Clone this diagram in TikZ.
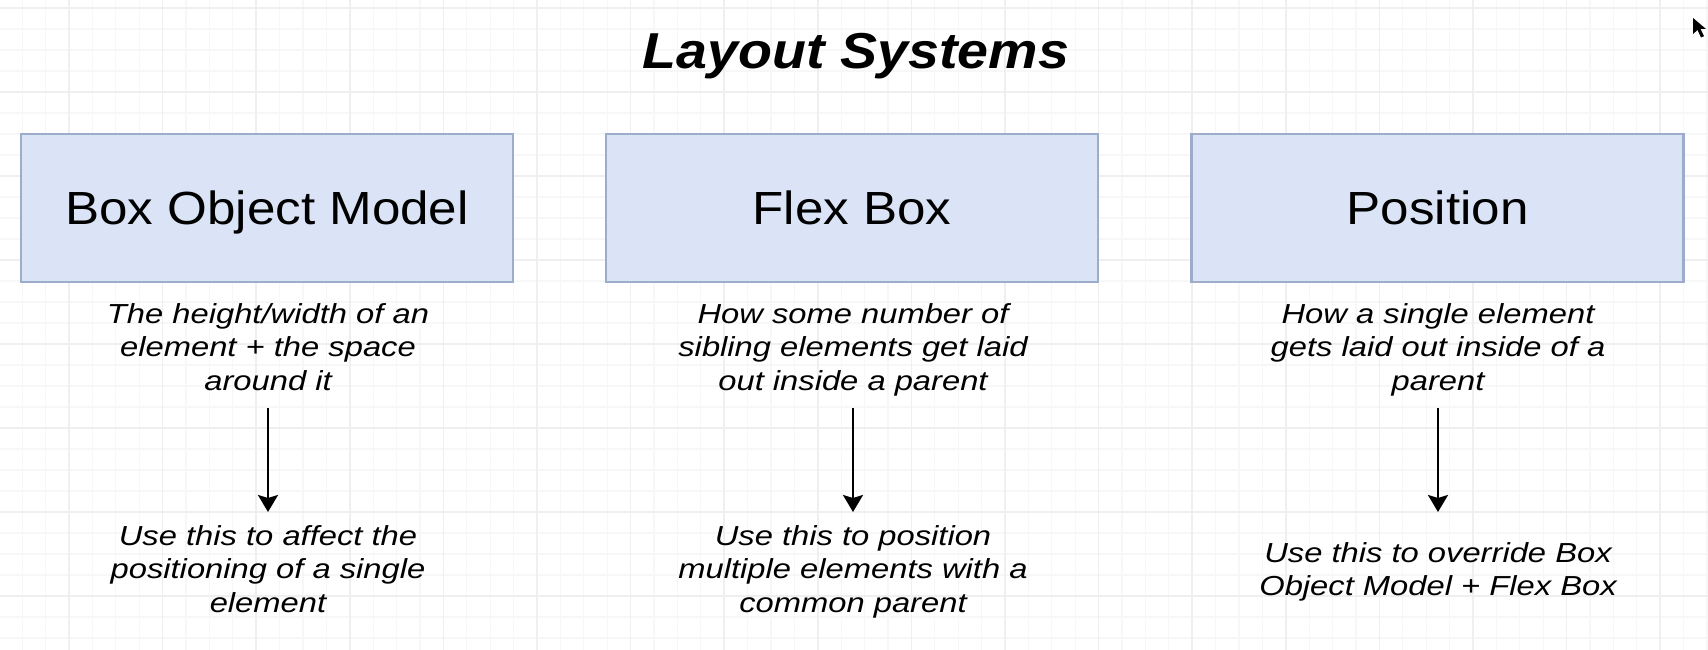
\documentclass[tikz,border=0pt]{standalone}
\usepackage{fontspec}
\setmainfont{Liberation Sans}[FakeStretch=1.10]
\newfontfamily\descfont{Liberation Sans}[FakeStretch=1.19]
\usetikzlibrary{arrows.meta}
\definecolor{gridminor}{RGB}{247,247,247}
\definecolor{gridmajor}{RGB}{239,239,239}
\definecolor{boxfill}{RGB}{219,228,246}
\definecolor{boxline}{RGB}{158,172,204}
\tikzset{
  layoutbox/.style={draw=boxline, fill=boxfill, line width=2.2pt, minimum width=492pt, minimum height=148pt, inner sep=0pt,
    font=\fontsize{46.5}{55}\selectfont, text height=33.3pt, text depth=0pt},
  desc/.style={align=center, inner sep=0pt, anchor=north, font=\descfont\itshape\fontsize{27.5}{33.5}\selectfont},
  arr/.style={line width=2.4pt, -{Stealth[length=17pt,width=20pt,inset=3pt]}},
  gminor/.style={draw=gridminor, line width=1.3pt},
  gmajor/.style={draw=gridmajor, line width=1.5pt},
}
\begin{document}
\begin{tikzpicture}[x=1pt,y=-1pt]
\useasboundingbox (0,0) rectangle (1708,650);
\fill[white] (0,0) rectangle (1708,650);
% grid
\foreach \k in {-2,...,70} { \draw[gminor] ({69+23.4*\k},0) -- ++(0,650); }
\foreach \k in {0,...,30} { \draw[gminor] (0,{8+21*\k}) -- ++(1708,0); }
\foreach \k in {0,4,...,68} { \draw[gmajor] ({69+23.4*\k},0) -- ++(0,650); }
\foreach \k in {0,4,...,28} { \draw[gmajor] (0,{8+21*\k}) -- ++(1708,0); }
% title
\node[anchor=base, inner sep=0pt, font=\bfseries\itshape\fontsize{50.5}{60}\selectfont] (title) at (856,68.5) {Layout Systems};
% boxes
\node[layoutbox] (b1) at (267,208) {Box Object Model};
\node[layoutbox] (b2) at (852,208) {Flex Box};
\node[layoutbox] (b3) at (1437.5,208) {Position};
% descriptions
\node[desc] (d1) at (268,303.3) {The height/width of an\\element + the space\\around it};
\node[desc] (d2) at (853,303.3) {How some number of\\sibling elements get laid\\out inside a parent};
\node[desc] (d3) at (1438,303.3) {How a single element\\gets laid out inside of a\\parent};
\node[desc] (u1) at (268,525) {Use this to affect the\\positioning of a single\\element};
\node[desc] (u2) at (853,525) {Use this to position\\multiple elements with a\\common parent};
\node[desc] (u3) at (1438,542) {Use this to override Box\\Object Model + Flex Box};
% arrows
\draw[arr, shorten <=17.4pt, shorten >=13pt] (d1.south) -- (u1.north);
\draw[arr, shorten <=11.8pt, shorten >=13pt] (d2.south) -- (u2.north);
\draw[arr, shorten <=11.8pt, shorten >=30pt] (d3.south) -- (u3.north);
% mouse pointer
\fill[black] (1693,18) -- (1693,34) -- (1697.5,30) -- (1701,37.5) -- (1704,36.2) -- (1700.5,29) -- (1706,29) -- cycle;
\end{tikzpicture}
\end{document}
